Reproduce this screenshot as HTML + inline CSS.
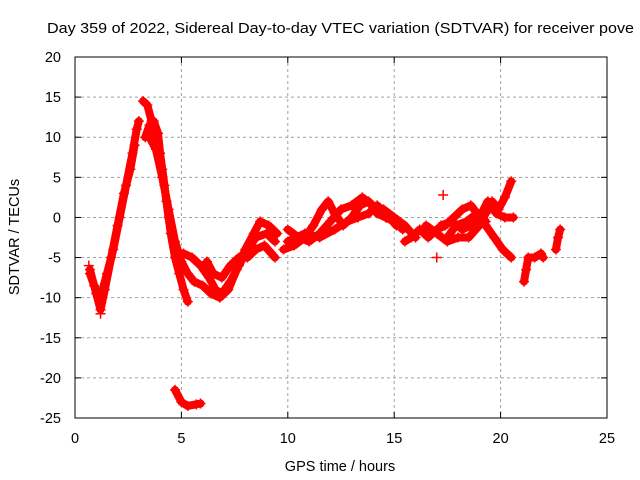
<!DOCTYPE html>
<html><head><meta charset="utf-8"><style>
html,body{margin:0;padding:0;background:#fff;overflow:hidden}
svg{display:block;font-family:"Liberation Sans",sans-serif}
</style></head><body>
<svg id="chart" width="640" height="480" viewBox="0 0 640 480">
<rect width="640" height="480" fill="#fff"/>
<text x="47" y="33" font-size="14.5" fill="#000" textLength="587" lengthAdjust="spacingAndGlyphs">Day 359 of 2022, Sidereal Day-to-day VTEC variation (SDTVAR) for receiver pove</text>
<g id="grid"></g>
<g id="data"></g>
<rect x="75" y="57" width="532" height="361" fill="none" stroke="#000" stroke-width="1"/>
<g id="ticks"></g>
<text x="340" y="471" font-size="14.5" text-anchor="middle">GPS time / hours</text>
<text transform="translate(19,237) rotate(-90)" font-size="14.5" text-anchor="middle">SDTVAR / TECUs</text>
</svg>
<script>
const xTicks=[0,5,10,15,20,25];
const yTicks=[20,15,10,5,0,-5,-10,-15,-20,-25];
const trackA=[[0.7,-7],[0.9,-8.5],[1.1,-10],[1.3,-9],[1.5,-7],[1.8,-4],[2.1,0],[2.4,4],[2.7,8],[2.9,11],[3.0,12]];
const trackA2=[[0.7,-6.5],[1.0,-9.5],[1.2,-11.5],[1.4,-9],[1.7,-5],[2.0,-1],[2.3,3],[2.6,6],[2.8,9]];
const trackPeak=[[3.2,14.5],[3.4,14],[3.6,12],[3.9,9],[4.1,6],[4.3,2],[4.5,-2],[4.7,-5],[4.9,-7],[5.1,-9],[5.3,-10.5]];
const trackB=[[3.3,10],[3.5,11.5],[3.7,12],[3.9,10.5],[4.0,8],[4.2,4],[4.4,0],[4.6,-3],[4.8,-4.5],[5.1,-4.5],[5.5,-5],[5.9,-6],[6.3,-7.5],[6.6,-9],[6.9,-9.5],[7.3,-8],[7.7,-6],[8.1,-4],[8.5,-2.5],[9.0,-2],[9.4,-3]];
const trackC=[[3.5,10],[3.8,8.5],[4.1,5],[4.4,1],[4.7,-3],[5.0,-5.5],[5.3,-7],[5.6,-8],[6.0,-8.5],[6.4,-9.5],[6.8,-10],[7.2,-9],[7.6,-6.5],[8.0,-4],[8.4,-2],[8.7,-0.5],[9.1,-1],[9.5,-2]];
const trackD=[[6.2,-5.5],[6.5,-7],[6.9,-7.5],[7.3,-6],[7.7,-5],[8.1,-5],[8.5,-4],[8.9,-3.5],[9.4,-5]];
const trackDip=[[4.7,-21.5],[5.0,-23],[5.3,-23.5],[5.7,-23.3],[5.9,-23.2]];
const trackE=[[9.8,-4],[10.3,-3.5],[10.8,-2.5],[11.2,-1],[11.6,1],[11.9,2],[12.2,0.5],[12.6,-1],[13.0,0],[13.4,1.5],[13.8,2],[14.2,0.5],[14.6,0],[15.0,-0.5],[15.4,-1.5]];
const trackF=[[10.0,-1.5],[10.5,-2.5],[11.0,-3],[11.5,-2],[12.0,-0.5],[12.5,1],[13.0,1.5],[13.5,2.5],[14.0,1.5],[14.5,1],[15.0,0],[15.5,-1],[16.0,-2.5]];
const trackG=[[10.0,-3],[10.8,-2],[11.5,-2.5],[12.2,-1.5],[12.8,-0.5],[13.3,0],[13.8,0.5],[14.2,1.5],[14.6,0.5],[15.1,-1]];
const trackH=[[15.5,-3],[15.8,-2.5],[16.2,-1.5],[16.6,-2.5],[17.0,-1.5],[17.4,-1],[17.8,0],[18.2,1],[18.6,1.5],[18.9,0.5],[19.3,-1],[19.7,-2.5],[20.1,-4],[20.5,-5]];
const trackI=[[16.5,-1],[17.0,-2],[17.5,-3],[18.0,-2.5],[18.5,-2.5],[19.0,-1],[19.3,0.5],[19.6,2],[19.9,1],[20.2,2.5],[20.5,4.5]];
const trackJ=[[17.2,-1],[17.7,-0.5],[18.2,-1.5],[18.6,-1],[19.0,0],[19.4,2],[19.8,0.5],[20.2,0],[20.6,0]];
const trackK=[[17.5,-2.5],[17.9,-1],[18.4,-0.5],[18.9,0.5],[19.3,-0.5]];
const trackL=[[21.1,-8],[21.2,-6.5],[21.3,-5],[21.6,-5],[21.9,-4.5],[22.0,-5]];
const trackM=[[22.6,-4],[22.7,-2.5],[22.8,-1.5]];
const isolated=[[17.3,2.8],[17.0,-5],[0.65,-6],[1.2,-12]];
const tracks=[trackA,trackA2,trackPeak,trackB,trackC,trackD,trackDip,trackE,trackF,trackG,trackH,trackI,trackJ,trackK,trackL,trackM];

const NS='http://www.w3.org/2000/svg';
const X0=75,X1=607,Y0=418,Y1=57;
function xs(v){return X0+(v-0)/(25-0)*(X1-X0);}
function ys(v){return Y0-(v-(-25))/(20-(-25))*(Y0-Y1);}
function mk(tag,attrs,parent){const e=document.createElementNS(NS,tag);for(const k in attrs)e.setAttribute(k,attrs[k]);parent.appendChild(e);return e;}
const grid=document.getElementById('grid'),ticks=document.getElementById('ticks'),data=document.getElementById('data');
xTicks.forEach(t=>{
  const x=xs(t);
  if(t>0&&t<25){const l=mk('line',{x1:x,x2:x,y1:Y1,y2:Y0,stroke:'#a0a0a0','stroke-dasharray':'3,3'},grid);
  
  }
  mk('line',{x1:x,x2:x,y1:Y0,y2:Y0-6,stroke:'#000'},ticks);
  mk('line',{x1:x,x2:x,y1:Y1,y2:Y1+6,stroke:'#000'},ticks);
  const tx=mk('text',{x:x,y:443,'font-size':'14.5','text-anchor':'middle'},ticks);
  tx.textContent=t;
  
  
});
yTicks.forEach(t=>{
  const y=ys(t);
  if(t<20&&t>-25){const l=mk('line',{x1:X0,x2:X1,y1:y,y2:y,stroke:'#a0a0a0','stroke-dasharray':'3,3'},grid);
  
  }
  mk('line',{x1:X0,x2:X0+6,y1:y,y2:y,stroke:'#000'},ticks);
  mk('line',{x1:X1,x2:X1-6,y1:y,y2:y,stroke:'#000'},ticks);
  const tx=mk('text',{x:61,y:y+5,'font-size':'14.5','text-anchor':'end'},ticks);
  tx.textContent=t;
  
  
});
function plus(p){
  const x=xs(p[0]),y=ys(p[1]);
  const g=mk('path',{d:`M${x-5},${y}H${x+5}M${x},${y-5}V${y+5}`,stroke:'#f00','stroke-width':'1.5',fill:'none'},data);
  
  
}
tracks.forEach(tr=>{
  const pl=mk('polyline',{points:tr.map(p=>xs(p[0])+','+ys(p[1])).join(' '),fill:'none',stroke:'#f00','stroke-width':'8','stroke-linejoin':'round','stroke-linecap':'round'},data);
  
  
  tr.forEach(plus);
});
isolated.forEach(plus);
</script>
</body></html>
